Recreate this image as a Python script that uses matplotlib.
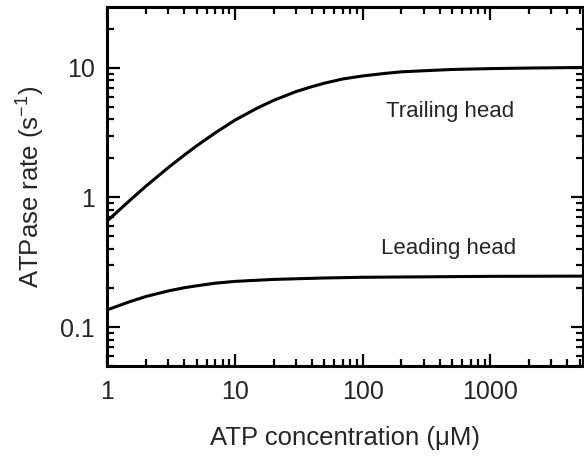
import matplotlib
matplotlib.use("Agg")
import matplotlib.pyplot as plt
from matplotlib.ticker import FixedLocator, FixedFormatter, LogLocator, NullFormatter

plt.rcParams['font.family'] = ['Liberation Sans', 'DejaVu Sans']

# Data
atp_trailing = [1, 1.5, 2, 3, 4, 5, 7, 10, 15, 20, 30, 40, 50, 70, 100, 150, 200, 300, 500,
                1000, 2000, 5300]
rate_trailing = [0.66, 0.95, 1.22, 1.70, 2.12, 2.50, 3.15, 3.95, 4.9, 5.6, 6.55, 7.15, 7.6, 8.2,
                 8.65, 9.05, 9.3, 9.48, 9.7, 9.85, 9.95, 10.05]
atp_leading = [1, 1.5, 2, 3, 4, 5, 7, 10, 20, 50, 100, 1000, 5300]
rate_leading = [0.136, 0.157, 0.172, 0.190, 0.201, 0.208, 0.218, 0.225, 0.233, 0.239, 0.242,
                0.246, 0.247]

x_ticks = [1, 10, 100, 1000]
x_tick_labels = ["1", "10", "100", "1000"]
y_ticks = [0.1, 1, 10]
y_tick_labels = ["0.1", "1", "10"]

fig = plt.figure(figsize=(5.84, 4.57), dpi=100)
ax = fig.add_axes([0.184, 0.199, 0.814, 0.786])

ax.plot(atp_trailing, rate_trailing, color='black', lw=2.2)
ax.plot(atp_leading, rate_leading, color='black', lw=2.2)

ax.set_xscale('log')
ax.set_yscale('log')
ax.set_xlim(1, 5300)
ax.set_ylim(0.05, 29.5)

ax.xaxis.set_major_locator(FixedLocator(x_ticks))
ax.xaxis.set_major_formatter(FixedFormatter(x_tick_labels))
ax.yaxis.set_major_locator(FixedLocator(y_ticks))
ax.yaxis.set_major_formatter(FixedFormatter(y_tick_labels))
ax.xaxis.set_minor_locator(LogLocator(base=10, subs=range(2, 10), numticks=20))
ax.yaxis.set_minor_locator(LogLocator(base=10, subs=range(2, 10), numticks=20))
ax.xaxis.set_minor_formatter(NullFormatter())
ax.yaxis.set_minor_formatter(NullFormatter())

for s in ax.spines.values():
    s.set_linewidth(2.2)

ax.tick_params(which='major', direction='in', length=9, width=1.6, top=True, right=True,
               labelsize=18, colors='black', labelcolor='#262626')
ax.tick_params(axis='x', which='major', pad=10)
ax.tick_params(axis='y', which='major', pad=9)
ax.tick_params(which='minor', direction='in', length=5, width=1.6, top=True, right=True)

ax.set_xlabel("ATP concentration (\u03bcM)", fontsize=18.5, color='#262626', labelpad=16)
ax.set_ylabel("ATPase rate (s$^{\\mathregular{-1}}$)", fontsize=18.5, color='#262626', labelpad=10)

ax.text(487, 4.6, "Trailing head", fontsize=16, color='#262626', ha='center', va='center')
ax.text(470, 0.40, "Leading head", fontsize=16, color='#262626', ha='center', va='center')

fig.savefig("out.png", dpi=100)
